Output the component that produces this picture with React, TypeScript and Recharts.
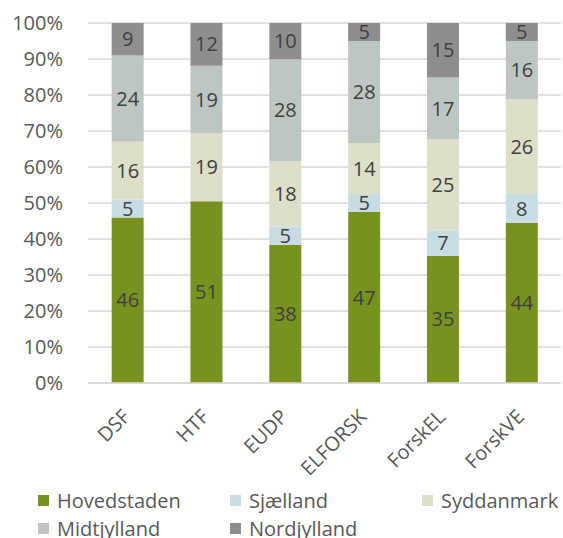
import React from "react";
import { BarChart, Bar, XAxis, YAxis, CartesianGrid, LabelList } from "recharts";

const categories = ["DSF", "HTF", "EUDP", "ELFORSK", "ForskEL", "ForskVE"];
const hovedstaden = [46, 51, 38, 47, 35, 44];
const sjaelland = [5, 0, 5, 5, 7, 8];
const syddanmark = [16, 19, 18, 14, 25, 26];
const midtjylland = [24, 19, 28, 28, 17, 16];
const nordjylland = [9, 12, 10, 5, 15, 5];
const yTicks = [0, 0.1, 0.2, 0.3, 0.4, 0.5, 0.6, 0.7, 0.8, 0.9, 1];

const seriesNames = ["Hovedstaden", "Sjælland", "Syddanmark", "Midtjylland", "Nordjylland"];
const seriesKeys = ["hov", "sja", "syd", "mid", "nor"];
const colors = ["#77921F", "#C8DCE4", "#DDDFC9", "#BEC6C1", "#8E8E8E"];

const data = categories.map((c, i) => ({
  name: c,
  hov: hovedstaden[i],
  sja: sjaelland[i],
  syd: syddanmark[i],
  mid: midtjylland[i],
  nor: nordjylland[i],
}));

const FONT = "'Open Sans', sans-serif";

const XTick = (props: any) => {
  const { x, y, payload } = props;
  const ax = x + 4;
  const ay = y + 35;
  return (
    <text
      x={ax}
      y={ay}
      textAnchor="end"
      transform={`rotate(-45, ${ax}, ${ay})`}
      fontSize={20}
      fill="#595959"
      fontFamily={FONT}
    >
      {payload.value}
    </text>
  );
};

const legendPos = [
  [38, 509],
  [230, 509],
  [422, 509],
  [38, 537],
  [230, 537],
];

const LegendBox = () => (
  <>
    {seriesNames.map((n, i) => (
      <React.Fragment key={n}>
        <div
          style={{
            position: "absolute",
            left: legendPos[i][0],
            top: legendPos[i][1] - 14,
            width: 11,
            height: 11,
            background: colors[i],
          }}
        />
        <div
          style={{
            position: "absolute",
            left: legendPos[i][0] + 19,
            top: legendPos[i][1] - 22,
            fontFamily: FONT,
            fontSize: 20,
            lineHeight: "28px",
            color: "#595959",
            whiteSpace: "nowrap",
          }}
        >
          {n}
        </div>
      </React.Fragment>
    ))}
  </>
);

const fmt = (v: any) => (v && v > 0 ? v : "");

export default function App() {
  return (
    <div style={{ position: "absolute", left: 0, top: 0, width: 563, height: 538, overflow: "hidden", background: "#fff" }}>
      <BarChart
        width={563}
        height={538}
        data={data}
        stackOffset="expand"
        barCategoryGap="30%"
        margin={{ top: 23, right: 2, left: 0, bottom: 125 }}
      >
        <CartesianGrid vertical={false} stroke="#D9D9D9" strokeWidth={1.5} />
        <YAxis
          width={88}
          ticks={yTicks}
          domain={[0, 1]}
          tickFormatter={(v: number) => `${Math.round(v * 100)}%`}
          axisLine={false}
          tickLine={false}
          tickSize={0}
          tickMargin={25}
          tick={{ fontSize: 20, fill: "#595959", fontFamily: FONT }}
          interval={0}
        />
        <XAxis
          dataKey="name"
          height={30}
          axisLine={{ stroke: "#D9D9D9", strokeWidth: 1.5 }}
          tickLine={false}
          tickSize={0}
          tickMargin={0}
          tick={<XTick />}
          interval={0}
        />
        {seriesKeys.map((k, i) => (
          <Bar key={k} dataKey={k} name={seriesNames[i]} stackId="a" fill={colors[i]} isAnimationActive={false}>
            <LabelList dataKey={k} position="center" formatter={fmt} fontSize={20} fill="#404040" fontFamily={FONT} />
          </Bar>
        ))}
      </BarChart>
      <LegendBox />
    </div>
  );
}
